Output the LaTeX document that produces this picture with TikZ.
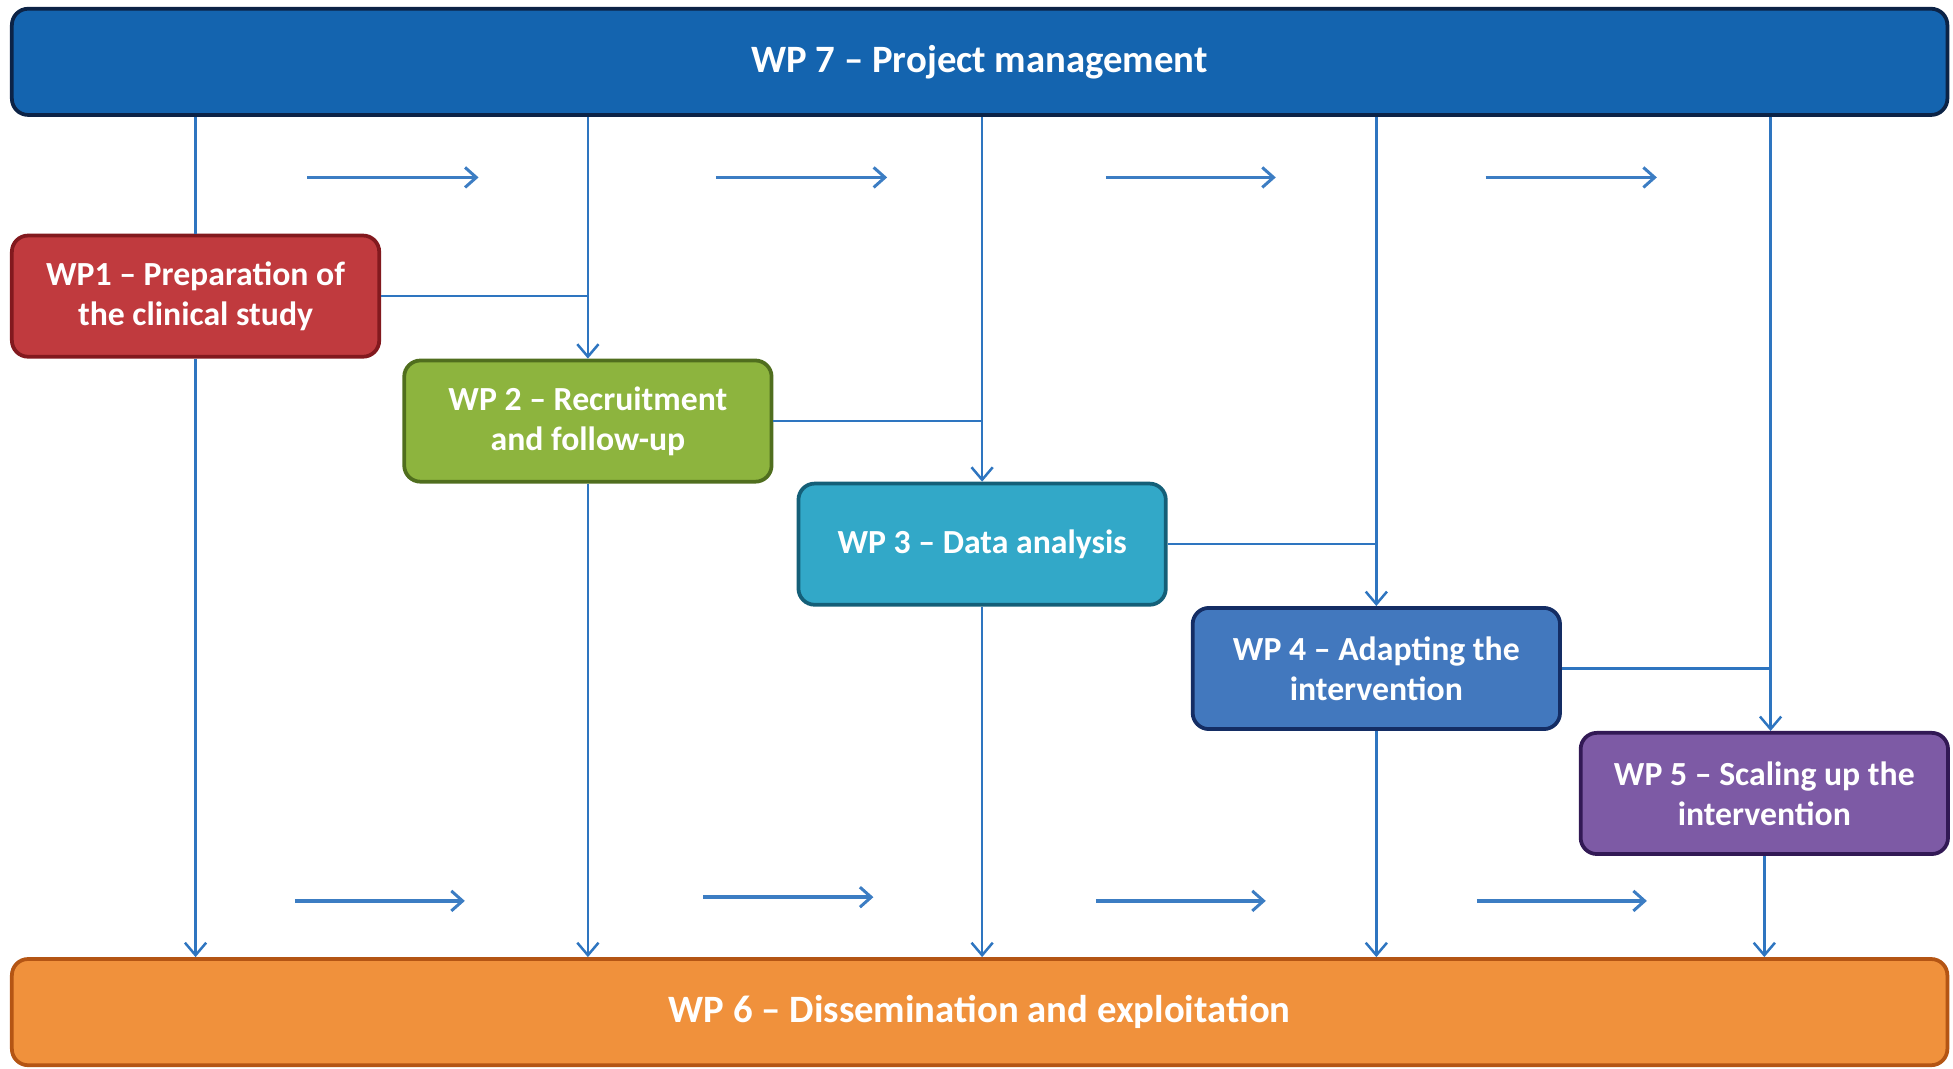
\documentclass[tikz,border=0pt]{standalone}
\usepackage{fontspec}
\setmainfont{Carlito}
\usetikzlibrary{arrows.meta}
\definecolor{linkblue}{RGB}{46,117,192}
\definecolor{flowblue}{RGB}{60,125,195}
\definecolor{wpsevenfill}{RGB}{20,100,175}
\definecolor{wpsevenline}{RGB}{12,35,70}
\definecolor{wponefill}{RGB}{192,58,62}
\definecolor{wponeline}{RGB}{130,25,30}
\definecolor{wptwofill}{RGB}{141,180,62}
\definecolor{wptwoline}{RGB}{80,110,30}
\definecolor{wpthreefill}{RGB}{50,168,200}
\definecolor{wpthreeline}{RGB}{20,95,120}
\definecolor{wpfourfill}{RGB}{66,120,190}
\definecolor{wpfourline}{RGB}{20,45,100}
\definecolor{wpfivefill}{RGB}{125,90,165}
\definecolor{wpfiveline}{RGB}{50,25,85}
\definecolor{wpsixfill}{RGB}{240,145,60}
\definecolor{wpsixline}{RGB}{180,85,20}
\tikzset{
  wpbox/.style={draw, line width=3pt, rounded corners=13pt, minimum width=294pt,
    minimum height=97pt, inner sep=0pt, text=white, align=center,
    font=\bfseries\fontsize{27}{32}\selectfont},
  wpbar/.style={wpbox, minimum width=1549pt, minimum height=85pt,
    font=\bfseries\fontsize{31}{34}\selectfont},
  link/.style={draw=linkblue, line width=2pt},
  linkarrow/.style={link, -{Straight Barb[length=10pt,width=17pt,line width=2pt]}},
  flowarrow/.style={draw=flowblue, line width=3pt, -{Straight Barb[length=9pt,width=16pt,line width=2.4pt]}}
}
\begin{document}
\begin{tikzpicture}[x=1pt,y=-1pt]
\useasboundingbox (0,0) rectangle (1563,855.5);
% bars
\node[wpbar, fill=wpsevenfill, draw=wpsevenline] (wp7) at (784,49.5) {WP 7 -- Project management};
\node[wpbar, fill=wpsixfill, draw=wpsixline] (wp6) at (784,810) {WP 6 -- Dissemination and exploitation};
% work packages
\node[wpbox, fill=wponefill, draw=wponeline] (wp1) at (156.5,237) {WP1 -- Preparation of\\the clinical study};
\node[wpbox, fill=wptwofill, draw=wptwoline] (wp2) at (470.5,337) {WP 2 -- Recruitment\\and follow-up};
\node[wpbox, fill=wpthreefill, draw=wpthreeline] (wp3) at (786,435.5) {WP 3 -- Data analysis};
\node[wpbox, fill=wpfourfill, draw=wpfourline] (wp4) at (1101.5,535) {WP 4 -- Adapting the\\intervention};
\node[wpbox, fill=wpfivefill, draw=wpfiveline] (wp5) at (1412,635) {WP 5 -- Scaling up the\\intervention};
\coordinate (wp5in) at ([xshift=5pt]wp5.north);
% links from WP7
\draw[link] (wp1.north |- wp7.south) -- (wp1.north);
\draw[linkarrow] (wp2.north |- wp7.south) -- (wp2.north);
\draw[linkarrow] (wp3.north |- wp7.south) -- (wp3.north);
\draw[linkarrow] (wp4.north |- wp7.south) -- (wp4.north);
\draw[linkarrow] (wp5in |- wp7.south) -- (wp5in);
% links between WPs
\draw[link] (wp1.east) -- (wp1.east -| wp2.north);
\draw[link] (wp2.east) -- (wp2.east -| wp3.north);
\draw[link] (wp3.east) -- (wp3.east -| wp4.north);
\draw[link] (wp4.east) -- (wp4.east -| wp5in);
% links to WP6
\draw[linkarrow] (wp1.south) -- (wp1.south |- wp6.north);
\draw[linkarrow] (wp2.south) -- (wp2.south |- wp6.north);
\draw[linkarrow] (wp3.south) -- (wp3.south |- wp6.north);
\draw[linkarrow] (wp4.south) -- (wp4.south |- wp6.north);
\draw[linkarrow] (wp5.south) -- (wp5.south |- wp6.north);
% free time arrows
\coordinate (ta1) at (246,142); \coordinate (tb1) at (383,142);
\coordinate (ta2) at (573,142); \coordinate (tb2) at (710,142);
\coordinate (ta3) at (885,142); \coordinate (tb3) at (1021,142);
\coordinate (ta4) at (1189,142); \coordinate (tb4) at (1326,142);
\coordinate (ba1) at (236,721); \coordinate (bb1) at (372,721);
\coordinate (ba2) at (563,718); \coordinate (bb2) at (699,718);
\coordinate (ba3) at (877,721); \coordinate (bb3) at (1013,721);
\coordinate (ba4) at (1182,721); \coordinate (bb4) at (1318,721);
\foreach \i in {1,2,3,4} {
  \draw[flowarrow] (ta\i) -- (tb\i);
  \draw[flowarrow] (ba\i) -- (bb\i);
}
\end{tikzpicture}
\end{document}
